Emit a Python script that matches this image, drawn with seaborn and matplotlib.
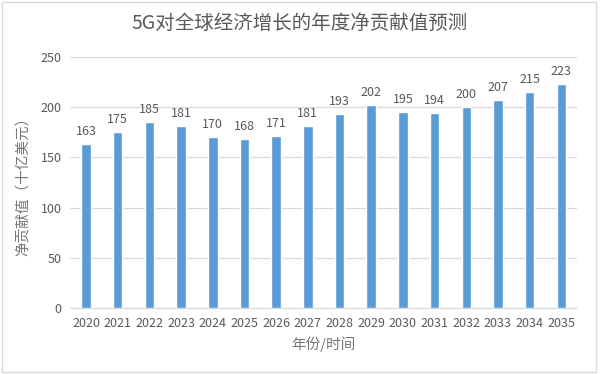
import matplotlib
matplotlib.use("Agg")
import matplotlib.pyplot as plt
import seaborn as sns
import pandas as pd

years = ["2020", "2021", "2022", "2023", "2024", "2025", "2026", "2027",
         "2028", "2029", "2030", "2031", "2032", "2033", "2034", "2035"]
values = [163, 175, 185, 181, 170, 168, 171, 181, 193, 202, 195, 194, 200, 207, 215, 223]
yticks = [0, 50, 100, 150, 200, 250]

sns.set_style("white")
plt.rcParams['font.family'] = ['Noto Sans CJK SC', 'DejaVu Sans']

df = pd.DataFrame({"year": years, "value": values})

fig = plt.figure(figsize=(6, 3.74), dpi=100)
ax = fig.add_axes([0.117, 0.176, 0.845, 0.672])
sns.barplot(data=df, x="year", y="value", color="#5B9BD5", saturation=1,
            width=0.3, ax=ax, zorder=3)

grey = "#595959"
ax.set_ylim(0, 250)
ax.set_xlim(-0.5, len(years) - 0.5)
ax.set_yticks(yticks)
ax.grid(axis="y", color="#D9D9D9", linewidth=0.9, zorder=0)
for s in ["top", "right", "left"]:
    ax.spines[s].set_visible(False)
ax.spines["bottom"].set_color("#D9D9D9")
ax.tick_params(axis="both", length=0, labelsize=9, colors=grey, pad=6)

for i, v in enumerate(values):
    ax.text(i, v + 6, str(v), ha="center", va="bottom", fontsize=9, color=grey)

ax.set_xlabel("年份/时间", fontsize=10.5, color="#757575", labelpad=5)
ax.set_ylabel("净贡献值（十亿美元）", fontsize=10.5, color="#757575", labelpad=7)
fig.suptitle("5G对全球经济增长的年度净贡献值预测", fontsize=14, color=grey, y=0.965)

fig.patches.append(plt.Rectangle((0.003, 0.005), 0.99, 0.99, transform=fig.transFigure,
                                 fill=False, edgecolor="#D9D9D9", linewidth=1))

fig.savefig("out.png", dpi=100, facecolor="white")
